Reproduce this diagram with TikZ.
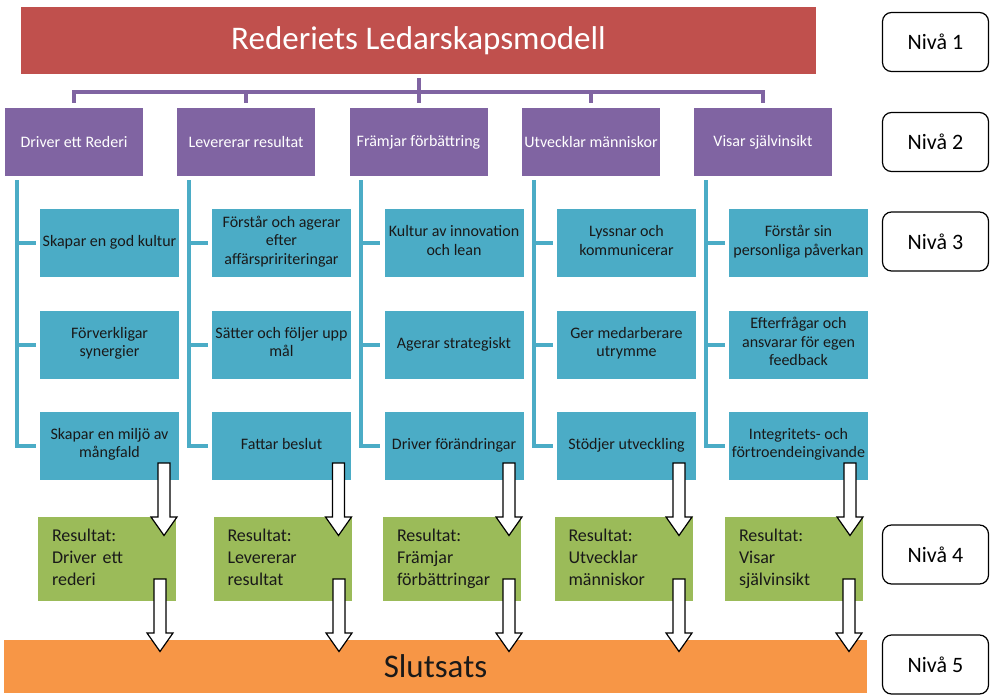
\documentclass[tikz,border=0pt]{standalone}
\usepackage{fontspec}
\setmainfont{Carlito}
\definecolor{titlered}{HTML}{C0504D}
\definecolor{grouppurple}{HTML}{8064A2}
\definecolor{skillblue}{HTML}{4BACC6}
\definecolor{resultgreen}{HTML}{9BBB59}
\definecolor{endorange}{HTML}{F79646}

\begin{document}
\begin{tikzpicture}[x=1pt,y=-1pt]
\tikzset{TitleStyle/.style = {fill=titlered, text=white, inner sep=0pt,
                              minimum width=795pt, minimum height=67pt,
                              font=\fontsize{33}{38}\selectfont},
         GroupStyle/.style = {fill=grouppurple, text=white, inner sep=0pt,
                              minimum width=138pt, minimum height=68pt,
                              font=\fontsize{16}{19}\selectfont},
         SkillStyle/.style = {fill=skillblue, text=black!90, inner sep=0pt,
                              minimum width=139pt, minimum height=68pt, align=center,
                              execute at begin node=\strut, execute at end node=\strut,
                              font=\fontsize{16}{18.5}\selectfont},
         ResultStyle/.style = {fill=resultgreen, text=black!90, inner xsep=14pt, inner ysep=0pt,
                              text width=110pt, minimum height=84pt, align=left,
                              execute at begin node=\strut, execute at end node=\strut,
                              font=\fontsize{18}{22}\selectfont},
         LevelStyle/.style = {draw, line width=1.2pt, rounded corners=9pt, inner sep=0pt,
                              minimum width=106pt, minimum height=59pt,
                              font=\fontsize{22}{26}\selectfont},
         EndStyle/.style = {fill=endorange, text=black!90, inner sep=0pt,
                              minimum width=863pt, minimum height=53pt,
                              font=\fontsize{33}{38}\selectfont},
         OrgLine/.style = {draw=grouppurple, line width=4pt},
         TreeLine/.style = {draw=skillblue, line width=4pt},
         BlockArrow/.style = {draw, fill=white, line width=1.2pt, line join=miter}}
\useasboundingbox (0,0) rectangle (993,698);

% level 1 and 2
\node[TitleStyle] (title) at (418.5,40.5) {Rederiets Ledarskapsmodell};
\node[GroupStyle] (p1) at (74,142) {Driver ett Rederi}; \node[GroupStyle] (p2) at (246,142) {Levererar resultat};
\node[GroupStyle] (p3) at (418.5,142) {Främjar förbättring}; \node[GroupStyle] (p4) at (591,142) {Utvecklar människor};
\node[GroupStyle] (p5) at (763,142) {Visar självinsikt};

% level 3
\node[SkillStyle] (b11) at (109.5,243) {Skapar en god kultur};
\node[SkillStyle] (b12) at (109.5,344.5) {Förverkligar\\synergier};
\node[SkillStyle] (b13) at (109.5,445.5) {Skapar en miljö av\\mångfald};
\node[SkillStyle] (b21) at (281.5,243) {Förstår och agerar\\efter\\affärspririteringar};
\node[SkillStyle] (b22) at (281.5,344.5) {Sätter och följer upp\\mål};
\node[SkillStyle] (b23) at (281.5,445.5) {Fattar beslut};
\node[SkillStyle] (b31) at (454,243) {Kultur av innovation\\och lean};
\node[SkillStyle] (b32) at (454,344.5) {Agerar strategiskt};
\node[SkillStyle] (b33) at (454,445.5) {Driver förändringar};
\node[SkillStyle] (b41) at (626.5,243) {Lyssnar och\\kommunicerar};
\node[SkillStyle] (b42) at (626.5,344.5) {Ger medarberare\\utrymme};
\node[SkillStyle] (b43) at (626.5,445.5) {Stödjer utveckling};
\node[SkillStyle] (b51) at (798.5,243) {Förstår sin\\personliga påverkan};
\node[SkillStyle] (b52) at (798.5,344.5) {Efterfrågar och\\ansvarar för egen\\feedback};
\node[SkillStyle] (b53) at (798.5,445.5) {Integritets- och\\förtroendeingivande};

% level 4 and 5
\node[ResultStyle] (r1) at (107,559) {Resultat:\\Driver ett\\rederi};
\node[ResultStyle] (r2) at (282.5,559) {Resultat:\\Levererar\\resultat};
\node[ResultStyle] (r3) at (452,559) {Resultat:\\Främjar\\förbättringar};
\node[ResultStyle] (r4) at (623.5,559) {Resultat:\\Utvecklar\\människor};
\node[ResultStyle] (r5) at (794,559) {Resultat:\\Visar\\självinsikt};
\node[EndStyle] (end) at (435.5,666.5) {Slutsats};

\node[LevelStyle] (n1) at (935.5,42) {Nivå 1}; \node[LevelStyle] (n2) at (935.5,142) {Nivå 2};
\node[LevelStyle] (n3) at (935.5,241.5) {Nivå 3}; \node[LevelStyle] (n4) at (935.5,554.5) {Nivå 4};
\node[LevelStyle] (n5) at (935.5,664.5) {Nivå 5};

% connectors
\draw[OrgLine] ([yshift=-4pt]title.south) -- ([yshift=5pt]p3.north);
\draw[OrgLine] ([yshift=5pt]p1.north) |- ([yshift=15.5pt]p3.north) -| ([yshift=5pt]p5.north);
\foreach \i in {2,4}
  \draw[OrgLine] ([yshift=15.5pt]p\i.north) -- ([yshift=5pt]p\i.north);
\foreach \i in {1,...,5}{
  \coordinate (t\i) at ([xshift=12pt,yshift=-4pt]p\i.south west);
  \draw[TreeLine] (t\i) |- ([xshift=-4pt]b\i3.west);
  \draw[TreeLine] (t\i |- b\i1.west) -- ([xshift=-4pt]b\i1.west);
  \draw[TreeLine] (t\i |- b\i2.west) -- ([xshift=-4pt]b\i2.west);
}
\foreach \x/\y in {164/463, 338.5/463, 509/463, 679/463, 850/463,
                   160/579, 339/579, 509/579, 679/579, 849/579}
  \draw[BlockArrow] (\x,\y) ++(-6,0) -- ++(12,0) -- ++(0,54) -- ++(7,0)
    -- ++(-13,18.5) -- ++(-13,-18.5) -- ++(7,0) -- cycle;
\end{tikzpicture}
\end{document}
